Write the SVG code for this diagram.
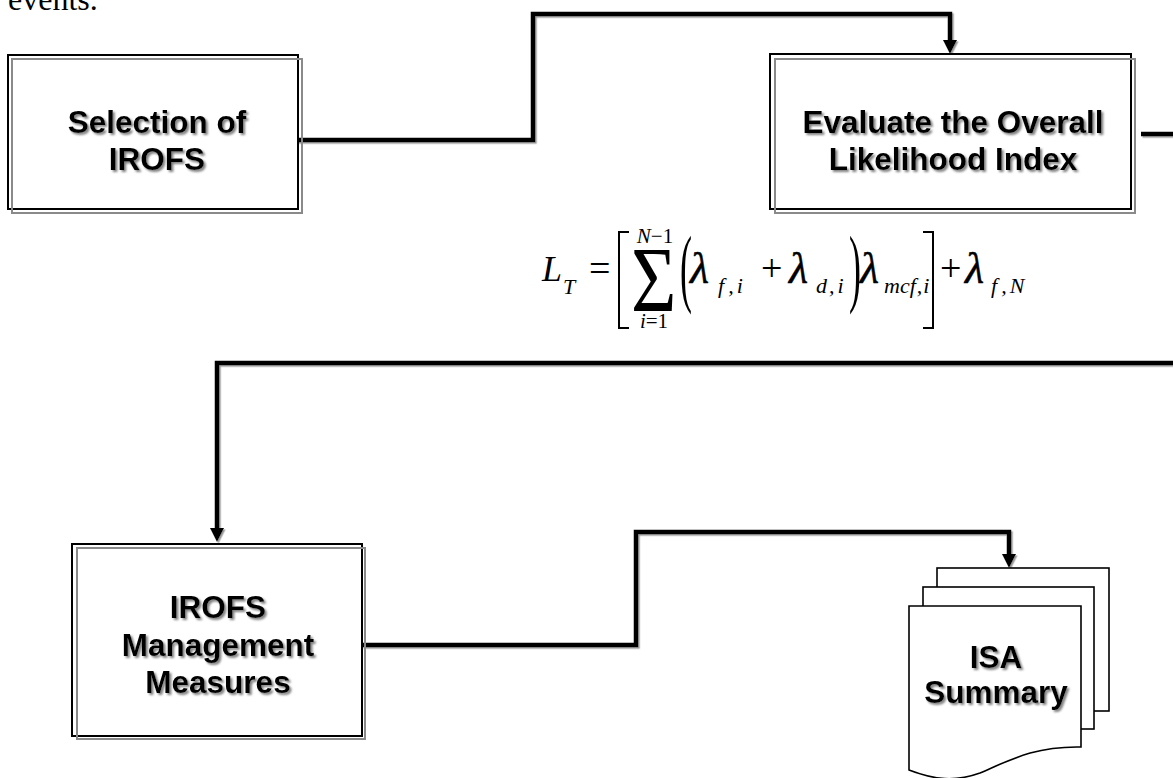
<svg xmlns="http://www.w3.org/2000/svg" width="1173" height="778" viewBox="0 0 1173 778">
  <defs>
    <style>
      .box{fill:#fff;stroke:#000;stroke-width:2}
      .inner{fill:none;stroke:#8a8a8a;stroke-width:2}
      .lbl{font-family:"Liberation Sans",Arial,sans-serif;font-weight:bold;font-size:31.5px;text-anchor:middle;fill:#000}
      .page{fill:#fff;stroke:#000;stroke-width:1.6}
      .wire{fill:none;stroke:#000;stroke-width:4.5;stroke-linejoin:miter;stroke-linecap:butt}
      .m{font-family:"Liberation Serif","Times New Roman",serif;fill:#000}
      .it{font-style:italic}
      .lam{font-family:"Liberation Serif","Times New Roman",serif;font-style:italic;font-size:44px;fill:#000;stroke:#000;stroke-width:0.5}
      .sub{font-family:"Liberation Serif","Times New Roman",serif;font-style:italic;font-size:22px;fill:#000}
      .brk{fill:none;stroke:#000;stroke-width:2}
      .body{font-family:"Liberation Serif","Times New Roman",serif;font-size:32px;fill:#000}
    </style>
    <filter id="txtShadow" filterUnits="userSpaceOnUse" x="0" y="0" width="1173" height="778">
      <feDropShadow dx="2" dy="2" stdDeviation="0.8" flood-color="#808080" flood-opacity="1"/>
    </filter>
    <filter id="lineShadow" filterUnits="userSpaceOnUse" x="0" y="0" width="1173" height="778">
      <feDropShadow dx="1.5" dy="1.5" stdDeviation="0.3" flood-color="#9a9a9a" flood-opacity="1"/>
    </filter>
    <marker id="arrow" markerUnits="userSpaceOnUse" markerWidth="14" markerHeight="14" refX="0" refY="7" orient="auto">
      <path d="M0,0 L14,7 L0,14 Z" fill="#000"/>
    </marker>
  </defs>

  <rect width="1173" height="778" fill="#fff"/>

  <!-- tail of the preceding paragraph -->
  <text class="body" x="8" y="10">events.</text>

  <!-- connectors -->
  <g id="connectors" filter="url(#lineShadow)">
    <path class="wire" d="M296,140 H533 V14 H950 V40" marker-end="url(#arrow)"/>
    <path class="wire" d="M1141,134 H1173"/>
    <path class="wire" d="M1173,363 H217 V528" marker-end="url(#arrow)"/>
    <path class="wire" d="M362,645 H636 V532 H1009 V554" marker-end="url(#arrow)"/>
  </g>

  <g id="selection">
    <rect class="box" x="8" y="55" width="290" height="154"/>
    <rect class="inner" x="12" y="59" width="290" height="154"/>
    <text class="lbl" filter="url(#txtShadow)"><tspan x="157" y="133">Selection of</tspan><tspan x="157" y="170">IROFS</tspan></text>
  </g>

  <g id="likelihood">
    <rect class="box" x="770" y="54" width="361" height="155"/>
    <rect class="inner" x="775" y="59" width="360" height="154"/>
    <text class="lbl" filter="url(#txtShadow)"><tspan x="953" y="133">Evaluate the Overall</tspan><tspan x="953" y="170">Likelihood Index</tspan></text>
  </g>

  <!-- overall likelihood index formula -->
  <g id="likelihood-formula">
    <text class="m it" x="542" y="281" font-size="36">L</text>
    <text class="sub" x="563" y="294">T</text>
    <text class="m" x="589" y="281" font-size="38">=</text>
    <polyline class="brk" points="629,232 619,232 619,328 629,328"/>
    <text class="m" transform="translate(631,311) scale(1,1.2)" font-size="78">Σ</text>
    <text class="m" x="655" y="243" font-size="21" text-anchor="middle"><tspan class="it">N</tspan>−1</text>
    <text class="m" x="654" y="328" font-size="21" text-anchor="middle"><tspan class="it">i</tspan>=1</text>
    <text class="m" transform="translate(680,296) scale(1,2.4)" font-size="36">(</text>
    <text class="lam" x="690" y="283">λ</text>
    <text class="sub" x="718" y="293">f<tspan dx="4">,</tspan><tspan dx="3">i</tspan></text>
    <text class="m" x="761" y="281" font-size="38">+</text>
    <text class="lam" x="789" y="283">λ</text>
    <text class="sub" x="816" y="293">d<tspan dx="2">,</tspan><tspan dx="3">i</tspan></text>
    <text class="m" transform="translate(849,296) scale(1,2.4)" font-size="36">)</text>
    <text class="lam" x="860" y="283">λ</text>
    <text class="sub" x="884" y="293" font-size="18">mcf<tspan dx="1">,</tspan><tspan dx="1">i</tspan></text>
    <polyline class="brk" points="923,232 933,232 933,328 923,328"/>
    <text class="m" x="940" y="281" font-size="38">+</text>
    <text class="lam" x="965" y="283">λ</text>
    <text class="sub" x="991" y="293">f<tspan dx="4">,</tspan><tspan dx="3">N</tspan></text>
  </g>

  <g id="management">
    <rect class="box" x="72" y="544" width="290" height="192"/>
    <rect class="inner" x="77" y="548" width="288" height="191"/>
    <text class="lbl" filter="url(#txtShadow)"><tspan x="218" y="618">IROFS</tspan><tspan x="218" y="656">Management</tspan><tspan x="218" y="693">Measures</tspan></text>
  </g>

  <!-- multi-page document symbol -->
  <g id="isa-summary">
    <rect class="page" x="937" y="568" width="172" height="143"/>
    <rect class="page" x="923" y="587" width="171" height="142"/>
    <path class="page" d="M909,606 H1081 V747 C1035,746 1010,760 980,773 C955,782 935,780 909,770 Z"/>
    <text class="lbl" filter="url(#txtShadow)"><tspan x="996" y="668">ISA</tspan><tspan x="996" y="703">Summary</tspan></text>
  </g>
</svg>
